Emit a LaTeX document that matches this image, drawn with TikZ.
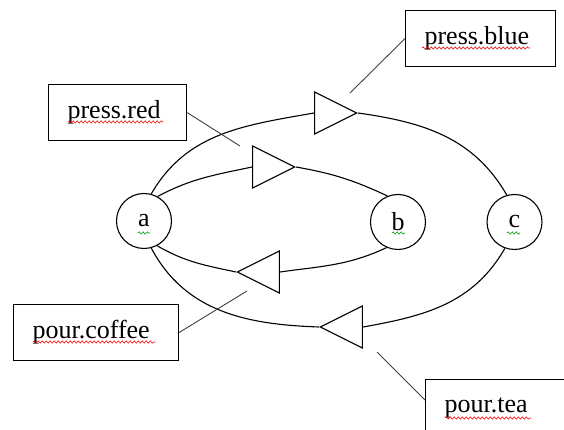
\documentclass[tikz,border=0pt]{standalone}
\usepackage{fontspec}
\setmainfont{Liberation Serif}
\usetikzlibrary{shapes.geometric,calc,decorations.pathmorphing}
\begin{document}
\begin{tikzpicture}[x=1pt,y=1pt,line width=1.1pt,
    every node/.style={font=\fontsize{26}{30}\selectfont},
    state/.style={draw,circle,minimum size=55pt,inner sep=0pt},
    tri/.style={draw,fill=white,isosceles triangle,isosceles triangle stretches,
        minimum width=42pt,minimum height=42pt,inner sep=0pt},
    labelbox/.style={draw,rectangle,align=left,inner xsep=19pt,minimum height=56pt,anchor=north west},
    leader/.style={line width=0.9pt,black!75},
    squig/.style={draw=#1,line width=0.6pt,decorate,decoration={snake,amplitude=1.1pt,segment length=4pt}}]
    \useasboundingbox (0,0) rectangle (564,430);
    \clip (0,0) rectangle (564,430);
    % states
    \node[state] (a) at (144,209) {a};
    \node[state] (b) at (398,208) {b};
    \node[state] (c) at (514.5,208) {c};
    % arrow heads on the transitions
    \node[tri,anchor=apex] (tb) at (358,317) {};
    \node[tri,anchor=apex] (tr) at (296,263) {};
    \node[tri,shape border rotate=180,anchor=apex] (tc) at (236,158) {};
    \node[tri,shape border rotate=180,anchor=apex] (tt) at (319,103) {};
    % transitions
    \draw (a.75) to[out=60,in=190] (tb.lower side);
    \draw (tb.apex) to[out=-8,in=120] (c.106);
    \draw (a.61) to[out=28,in=192] (tr.lower side);
    \draw (tr.apex) to[out=-10,in=155] (b.112);
    \draw (b.246) to[out=205,in=8] (tc.lower side);
    \draw (tc.apex) to[out=168,in=-30] (a.-62);
    \draw (c.250) to[out=240,in=10] (tt.lower side);
    \draw (tt.apex) to[out=178,in=-62] (a.-75);
    % labels
    \node[labelbox,text width=100pt] (red) at (48,346) {press.red};
    \node[labelbox,text width=112pt] (blue) at (405,420) {press.blue};
    \node[labelbox,text width=127pt] (coffee) at (13,126) {pour.coffee};
    \node[labelbox,text width=137pt] (tea) at (425,51) {pour.tea};
    \coordinate (redtip) at (240,284);
    \coordinate (bluetip) at (350,337);
    \coordinate (coffeetip) at (247,139);
    \coordinate (teatip) at (377,78);
    \draw[leader] (red.east) -- (redtip);
    \draw[leader] (blue.west) -- (bluetip);
    \draw[leader] (coffee.east) -- (coffeetip);
    \draw[leader] ($(tea.north west)+(0,-21)$) -- (teatip);
    % spelling marks
    \draw[squig=red] (68,308) -- (163,308);
    \draw[squig=red] (422,382) -- (530,382);
    \draw[squig=red] (33,88) -- (155,88);
    \draw[squig=red] (445,12) -- (531,12);
    \draw[squig=green!60!black] (138,197) -- (150,197);
    \draw[squig=green!60!black] (392,197) -- (405,197);
    \draw[squig=green!60!black] (507,197) -- (520,197);
\end{tikzpicture}
\end{document}
